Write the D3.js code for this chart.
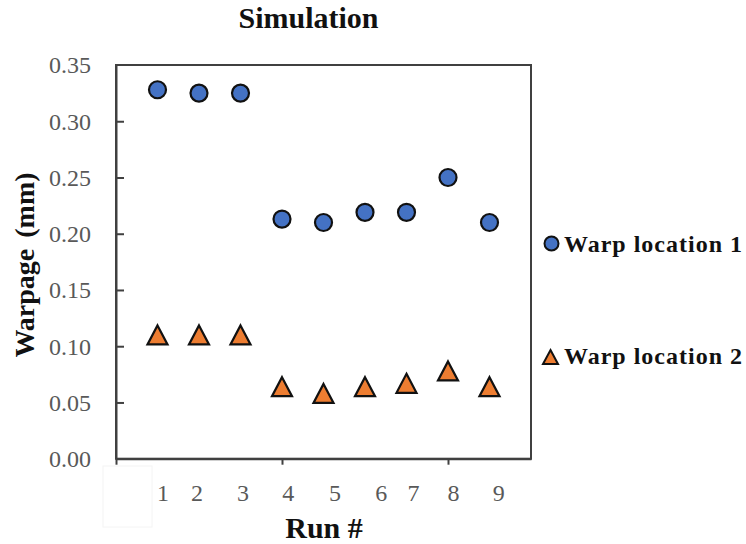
<!DOCTYPE html>
<html>
<head>
<meta charset="utf-8">
<script src="https://cdn.jsdelivr.net/npm/d3@7/dist/d3.min.js"></script>
<style>
  html, body { margin: 0; padding: 0; background: #fff; }
  svg { display: block; }
  text { font-family: "Liberation Serif", "Times New Roman", serif; }
</style>
</head>
<body>
<svg id="chart" width="746" height="544"></svg>
<script>
// Run numbers and measured warpage (mm) at the two warp locations
const runs = [1, 2, 3, 4, 5, 6, 7, 8, 9];
const warpLoc1 = [0.328, 0.325, 0.325, 0.213, 0.210, 0.219, 0.219, 0.250, 0.210];
const warpLoc2 = [0.110, 0.110, 0.110, 0.064, 0.058, 0.064, 0.067, 0.078, 0.064];
const seriesNames = ["Warp location 1", "Warp location 2"];
const yTicks = [0, 0.05, 0.10, 0.15, 0.20, 0.25, 0.30, 0.35];
const xTicks = [0, 4, 8];
// run labels sit in their own text boxes along the axis (axis units)
const runLabelAt = [1.13, 1.95, 3.06, 4.15, 5.28, 6.39, 7.17, 8.13, 9.22];

const svg = d3.select("#chart");
const plotL = 116, plotR = 531, plotT = 65, plotB = 458.7;

const x = d3.scaleLinear().domain([0, 10]).range([plotL, plotR]);
const y = d3.scaleLinear().domain([0, 0.35]).range([plotB, plotT]);

const axisColor = "#404040";
const tickTextColor = "#595959";

// plot frame
svg.append("rect")
  .attr("x", plotL).attr("y", plotT)
  .attr("width", plotR - plotL).attr("height", plotB - plotT)
  .attr("fill", "none").attr("stroke", axisColor).attr("stroke-width", 2);

// faint text box over the origin label
svg.append("rect")
  .attr("x", 103).attr("y", 466).attr("width", 49).attr("height", 61)
  .attr("fill", "#fff").attr("stroke", "#f4f4f4").attr("stroke-width", 1);

// y axis: inward ticks, grey labels
const yAxis = svg.append("g")
  .attr("transform", `translate(${plotL},0)`)
  .call(d3.axisLeft(y).tickValues(yTicks).tickSizeInner(-8).tickSizeOuter(0)
    .tickFormat(d3.format(".2f")).tickPadding(25));
yAxis.select(".domain").attr("stroke", axisColor).attr("stroke-width", 2);
yAxis.selectAll(".tick line").attr("stroke", axisColor).attr("stroke-width", 2)
  .filter(d => d === 0 || d === 0.35).remove();
yAxis.selectAll(".tick text")
  .attr("x", -25).attr("dy", "0.33em")
  .attr("fill", tickTextColor)
  .style("font-family", "'Liberation Serif', serif")
  .style("font-size", "24px");

// x axis: outward ticks only, labels drawn separately
const xAxis = svg.append("g")
  .attr("transform", `translate(0,${plotB})`)
  .call(d3.axisBottom(x).tickValues(xTicks).tickSizeInner(6).tickSizeOuter(0).tickFormat(""));
xAxis.select(".domain").attr("stroke", axisColor).attr("stroke-width", 2);
xAxis.selectAll(".tick line").attr("stroke", axisColor).attr("stroke-width", 2);

svg.append("g").selectAll("text")
  .data(runs)
  .join("text")
  .attr("x", (d, i) => x(runLabelAt[i]))
  .attr("y", 501)
  .attr("text-anchor", "middle")
  .attr("fill", tickTextColor)
  .style("font-size", "24px")
  .text(d => d);

// marker shapes
const circleR = 8.5;
function trianglePath(cx, cy, w, h) {
  return `M${cx},${cy - h / 2}L${cx + w / 2},${cy + h / 2}L${cx - w / 2},${cy + h / 2}Z`;
}

// series 1: blue circles
svg.append("g").selectAll("circle")
  .data(runs)
  .join("circle")
  .attr("cx", d => x(d))
  .attr("cy", (d, i) => y(warpLoc1[i]))
  .attr("r", circleR)
  .attr("fill", "#4472C4")
  .attr("stroke", "#111")
  .attr("stroke-width", 2.2);

// series 2: orange triangles
svg.append("g").selectAll("path")
  .data(runs)
  .join("path")
  .attr("d", (d, i) => trianglePath(x(d), y(warpLoc2[i]), 20, 19))
  .attr("fill", "#ED7D31")
  .attr("stroke", "#111")
  .attr("stroke-width", 2.2)
  .attr("stroke-linejoin", "miter");

// titles
svg.append("text")
  .attr("x", 308.5).attr("y", 28)
  .attr("text-anchor", "middle")
  .attr("fill", "#111")
  .style("font-size", "30px").style("font-weight", "bold")
  .text("Simulation");

svg.append("text")
  .attr("x", 324).attr("y", 538)
  .attr("text-anchor", "middle")
  .attr("fill", "#111")
  .style("font-size", "30px").style("font-weight", "bold")
  .text("Run #");

svg.append("text")
  .attr("transform", "translate(34,265) rotate(-90)")
  .attr("text-anchor", "middle")
  .attr("fill", "#111")
  .style("font-size", "28px").style("font-weight", "bold")
  .style("word-spacing", "4px")
  .text("Warpage (mm)");

// legend
const legend = svg.append("g");
legend.append("circle")
  .attr("cx", 551.5).attr("cy", 243.5).attr("r", 7)
  .attr("fill", "#4472C4").attr("stroke", "#111").attr("stroke-width", 2);
legend.append("path")
  .attr("d", trianglePath(550.5, 357, 15, 14))
  .attr("fill", "#ED7D31").attr("stroke", "#111").attr("stroke-width", 2);
legend.selectAll("text")
  .data(seriesNames)
  .join("text")
  .attr("x", 564)
  .attr("y", (d, i) => i === 0 ? 251.5 : 364)
  .attr("fill", "#111")
  .style("font-size", "24px").style("font-weight", "bold")
  .style("letter-spacing", "1px")
  .text(d => d);
</script>
</body>
</html>
